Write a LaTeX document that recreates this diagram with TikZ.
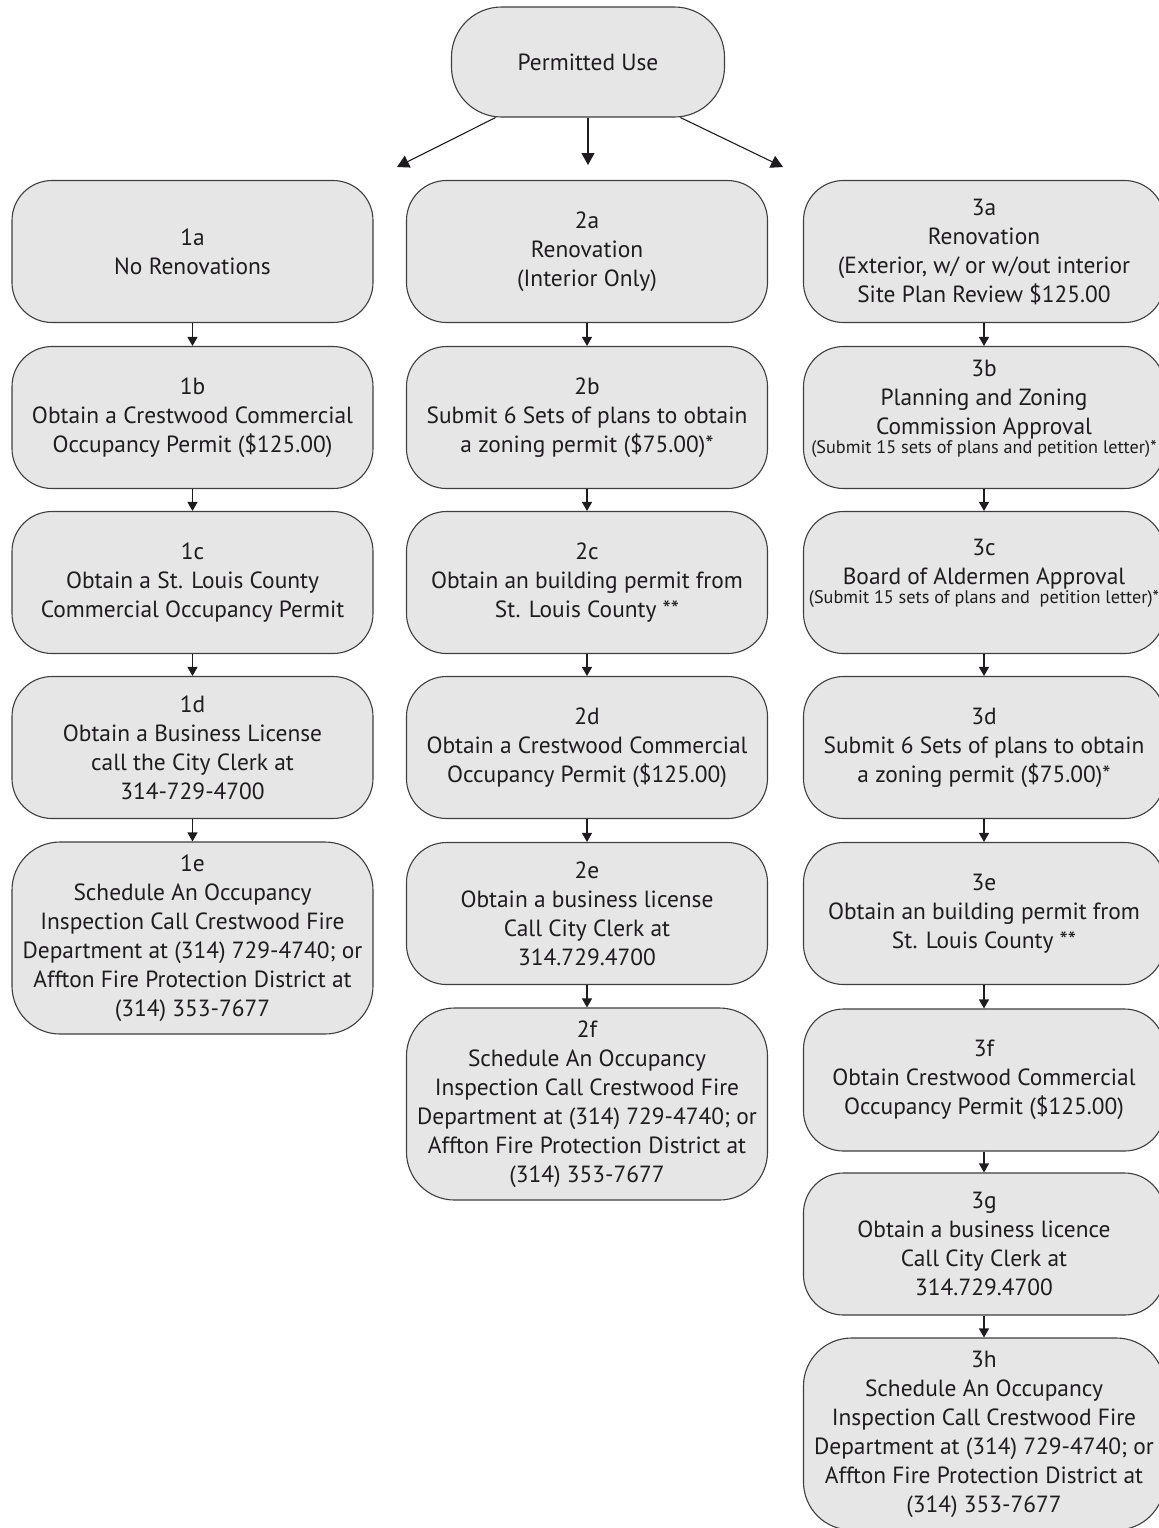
\documentclass[tikz,border=0pt]{standalone}
\usepackage{fontspec}
\setmainfont{PT Sans}
\usetikzlibrary{arrows.meta}
\definecolor{ink}{RGB}{30,28,30}
\definecolor{boxgray}{RGB}{230,230,230}
\newcommand{\notefont}{\fontsize{9.1}{10}\selectfont}

\begin{document}
\begin{tikzpicture}[x=0.5pt,y=-0.5pt]

\tikzset{
  Stage/.style={draw=ink!85, fill=boxgray, line width=0.55pt, rounded corners=20pt,
    minimum width=180.5pt, minimum height=71pt, inner sep=0pt, align=center,
    text=ink, font=\fontsize{11.7}{14.5}\selectfont},
  TallStage/.style={Stage, minimum height=96pt, rounded corners=24pt},
  Start/.style={Stage, minimum width=136.5pt, minimum height=55pt, rounded corners=25pt},
  Flow/.style={-{Triangle[width=5pt,length=4.5pt]}, line width=0.6pt, draw=ink},
  Split/.style={-{Triangle[width=6.5pt,length=6pt]}, line width=0.55pt, draw=ink}
}

\useasboundingbox (0,0) rectangle (1159,1528);

\node[Start] (Use) at (588,62) {Permitted Use};
\coordinate (Use_1) at (397,167);
\coordinate (Use_2) at (588,165);
\coordinate (Use_3) at (783,167);
\draw[Split] (Use.211) -- (Use_1);
\draw[Split] (Use.south) -- (Use_2);
\draw[Split] (Use.-31) -- (Use_3);

\node[Stage] (C1_a) at (192.5,251.5) {1a\\No Renovations};
\node[Stage] (C1_b) at (192.5,417.5) {1b\\Obtain a Crestwood Commercial\\Occupancy Permit (\$125.00)};
\node[Stage] (C1_c) at (192.5,582.5) {1c\\Obtain a St. Louis County\\Commercial Occupancy Permit};
\node[Stage] (C1_d) at (192.5,747.5) {1d\\Obtain a Business License\\call the City Clerk at\\314-729-4700};
\node[TallStage] (C1_e) at (192.5,938) {1e\\Schedule An Occupancy\\Inspection Call Crestwood Fire\\Department at (314) 729-4740; or\\Affton Fire Protection District at\\(314) 353-7677};
\draw[Flow] (C1_a) -- (C1_b);
\draw[Flow] (C1_b) -- (C1_c);
\draw[Flow] (C1_c) -- (C1_d);
\draw[Flow] (C1_d) -- (C1_e);

\node[Stage] (C2_a) at (587,251.5) {2a\\Renovation\\(Interior Only)};
\node[Stage] (C2_b) at (587,417.5) {2b\\Submit 6 Sets of plans to obtain\\a zoning permit (\$75.00)*};
\node[Stage] (C2_c) at (587,582.5) {2c\\Obtain an building permit from\\St. Louis County **};
\node[Stage] (C2_d) at (587,747.5) {2d\\Obtain a Crestwood Commercial\\Occupancy Permit (\$125.00)};
\node[Stage] (C2_e) at (587,913.5) {2e\\Obtain a business license\\Call City Clerk at\\314.729.4700};
\node[TallStage] (C2_f) at (587,1104) {2f\\Schedule An Occupancy\\Inspection Call Crestwood Fire\\Department at (314) 729-4740; or\\Affton Fire Protection District at\\(314) 353-7677};
\draw[Flow] (C2_a) -- (C2_b);
\draw[Flow] (C2_b) -- (C2_c);
\draw[Flow] (C2_c) -- (C2_d);
\draw[Flow] (C2_d) -- (C2_e);
\draw[Flow] (C2_e) -- (C2_f);

\node[Stage] (C3_a) at (984,251.5) {3a\\Renovation\\(Exterior, w/ or w/out interior\\Site Plan Review \$125.00};
\node[Stage, text depth=11pt] (C3_b) at (984,417.5) {3b\\Planning and Zoning\\Commission Approval\\[-5pt]{\notefont (Submit 15 sets of plans and petition letter)*}};
\node[Stage, text depth=11.5pt] (C3_c) at (984,582.5) {3c\\Board of Aldermen Approval\\[-5pt]{\notefont (Submit 15 sets of plans and\ \ petition letter)*}};
\node[Stage] (C3_d) at (984,747.5) {3d\\Submit 6 Sets of plans to obtain\\a zoning permit (\$75.00)*};
\node[Stage] (C3_e) at (984,913.5) {3e\\Obtain an building permit from\\St. Louis County **};
\node[Stage] (C3_f) at (984,1080) {3f\\Obtain Crestwood Commercial\\Occupancy Permit (\$125.00)};
\node[Stage] (C3_g) at (984,1244) {3g\\Obtain a business licence\\Call City Clerk at\\314.729.4700};
\node[TallStage] (C3_h) at (984,1434) {3h\\Schedule An Occupancy\\Inspection Call Crestwood Fire\\Department at (314) 729-4740; or\\Affton Fire Protection District at\\(314) 353-7677};
\draw[Flow] (C3_a) -- (C3_b);
\draw[Flow] (C3_b) -- (C3_c);
\draw[Flow] (C3_c) -- (C3_d);
\draw[Flow] (C3_d) -- (C3_e);
\draw[Flow] (C3_e) -- (C3_f);
\draw[Flow] (C3_f) -- (C3_g);
\draw[Flow] (C3_g) -- (C3_h);

\end{tikzpicture}
\end{document}
